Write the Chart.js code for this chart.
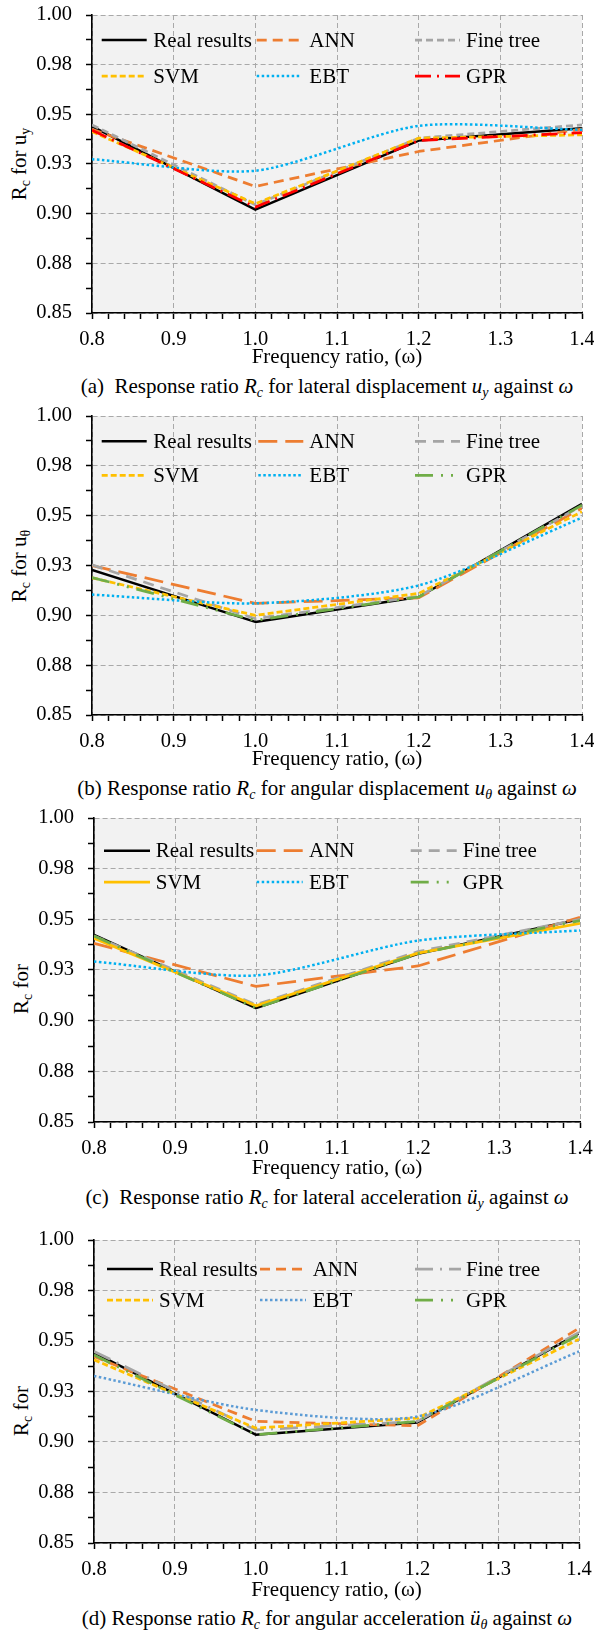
<!DOCTYPE html>
<html>
<head>
<meta charset="utf-8">
<script src="https://cdn.jsdelivr.net/npm/chart.js@4/dist/chart.umd.min.js"></script>
<style>
  html, body { margin: 0; padding: 0; background: #ffffff; }
  body { position: relative; width: 594px; height: 1631px; overflow: hidden;
         font-family: "Liberation Serif", "Times New Roman", serif; color: #000; }
  .ytitle { position: absolute; font-size: 21px; line-height: 21px; white-space: nowrap;
            transform: translate(-50%, -50%) rotate(-90deg); }
  .caption { position: absolute; font-size: 21px; line-height: 21px; white-space: nowrap;
             transform: translate(-50%, -50%); }
  sub { font-size: 14px; line-height: 0; vertical-align: -4px; }
</style>
</head>
<body>

<div class="ytitle" style="left:18.5px; top:164px;">R<sub>c</sub> for u<sub>y</sub></div>
<div class="ytitle" style="left:18.5px; top:566px;">R<sub>c</sub> for u<sub>θ</sub></div>
<div class="ytitle" style="left:21px; top:989px;">R<sub>c</sub> for</div>
<div class="ytitle" style="left:21px; top:1411px;">R<sub>c</sub> for</div>

<div class="caption" style="left:327px; top:386px;">(a)&nbsp; Response ratio <i>R<sub>c</sub></i> for lateral displacement <i>u<sub>y</sub></i> against <i>ω</i></div>
<div class="caption" style="left:327px; top:788px;">(b) Response ratio <i>R<sub>c</sub></i> for angular displacement <i>u<sub>θ</sub></i> against <i>ω</i></div>
<div class="caption" style="left:327px; top:1197px;">(c)&nbsp; Response ratio <i>R<sub>c</sub></i> for lateral acceleration <i>ü<sub>y</sub></i> against <i>ω</i></div>
<div class="caption" style="left:327px; top:1618px;">(d) Response ratio <i>R<sub>c</sub></i> for angular acceleration <i>ü<sub>θ</sub></i> against <i>ω</i></div>

<script>
// ---------------- DATA ----------------
const freq = [0.8, 1.0, 1.2, 1.4];
const xTickLabels = ['0.8', '0.9', '1.0', '1.1', '1.2', '1.3', '1.4'];
const yTickLabels = ['0.85', '0.88', '0.90', '0.93', '0.95', '0.98', '1.00'];
const seriesNames = ['Real results', 'ANN', 'Fine tree', 'SVM', 'EBT', 'GPR'];
const xAxisTitle = 'Frequency ratio, (ω)';

// (a) lateral displacement u_y
const realA = [0.9440, 0.9020, 0.9368, 0.9430];
const annA  = [0.9425, 0.9137, 0.9313, 0.9425];
const fineA = [0.9447, 0.9045, 0.9380, 0.9447];
const svmA  = [0.9413, 0.9050, 0.9380, 0.9397];
const ebtA  = [0.9274, 0.9216, 0.9442, 0.9422];
const gprA  = [0.9420, 0.9033, 0.9368, 0.9408];

// (b) angular displacement u_theta
const realB = [0.9228, 0.8967, 0.9092, 0.9559];
const annB  = [0.9250, 0.9060, 0.9088, 0.9538];
const fineB = [0.9253, 0.8983, 0.9095, 0.9550];
const svmB  = [0.9188, 0.9000, 0.9110, 0.9520];
const ebtB  = [0.9104, 0.9060, 0.9150, 0.9490];
const gprB  = [0.9190, 0.8975, 0.9092, 0.9553];

// (c) lateral acceleration
const realC = [0.9423, 0.9062, 0.9330, 0.9500];
const annC  = [0.9382, 0.9169, 0.9270, 0.9510];
const fineC = [0.9418, 0.9079, 0.9341, 0.9500];
const svmC  = [0.9407, 0.9073, 0.9333, 0.9480];
const ebtC  = [0.9292, 0.9223, 0.9395, 0.9445];
const gprC  = [0.9418, 0.9062, 0.9330, 0.9494];

// (d) angular acceleration
const realD = [0.9443, 0.9036, 0.9097, 0.9538];
const annD  = [0.9423, 0.9102, 0.9080, 0.9563];
const fineD = [0.9448, 0.9060, 0.9102, 0.9542];
const svmD  = [0.9407, 0.9069, 0.9118, 0.9509];
const ebtD  = [0.9327, 0.9159, 0.9126, 0.9448];
const gprD  = [0.9431, 0.9036, 0.9102, 0.9530];

// ---------------- STYLES / LAYOUT ----------------
const FONT = '"Liberation Serif", "Times New Roman", serif';
const GRID = '#a9a9a9';
const ST = {
  real:     { c: '#000000', w: 2.5,  d: [] },
  annS:     { c: '#ED7D31', w: 2.75, d: [10, 6] },
  annL:     { c: '#ED7D31', w: 2.75, d: [19, 8] },
  fineS:    { c: '#A5A5A5', w: 2.75, d: [7, 4] },
  fineL:    { c: '#A5A5A5', w: 2.75, d: [11, 7] },
  fineDD:   { c: '#A5A5A5', w: 2.75, d: [18, 7, 2, 7] },
  svmD:     { c: '#FFC000', w: 2.75, d: [6, 3] },
  svmS:     { c: '#FFC000', w: 2.75, d: [] },
  ebt:      { c: '#00B0F0', w: 2.5,  d: [2.5, 2.5], t: 0.25 },
  ebt2:     { c: '#5B9BD5', w: 2.5,  d: [2.5, 2.5], t: 0.25 },
  gprR:     { c: '#FF0000', w: 2.75, d: [16, 6, 2, 6] },
  gprG:     { c: '#70AD47', w: 2.75, d: [18, 8, 2, 8, 2, 8] }
};

const panels = [
  { values: [realA, annA, fineA, svmA, ebtA, gprA],
    styles: [ST.real, ST.annS, ST.fineS, ST.svmD, ST.ebt, ST.gprR],
    plotTop: 15, plotBottom: 313, left: 92, right: 582, xh: 55,
    leg: { lineX: [9.7, 164.7, 323], textX: [61.3, 217.3, 374], rows: [25, 61], len: 45 } },
  { values: [realB, annB, fineB, svmB, ebtB, gprB],
    styles: [ST.real, ST.annL, ST.fineL, ST.svmD, ST.ebt, ST.gprG],
    plotTop: 415.5, plotBottom: 714, left: 92, right: 582, xh: 55,
    leg: { lineX: [9.7, 166.3, 323], textX: [61.3, 217.3, 374], rows: [25.3, 59.3], len: 45 } },
  { values: [realC, annC, fineC, svmC, ebtC, gprC],
    styles: [ST.real, ST.annL, ST.fineL, ST.svmS, ST.ebt, ST.gprG],
    plotTop: 818, plotBottom: 1122, left: 94, right: 580, xh: 57,
    leg: { lineX: [10, 162.7, 316.7], textX: [61.7, 215, 368.7], rows: [32.7, 64], len: 46 } },
  { values: [realD, annD, fineD, svmD, ebtD, gprD],
    styles: [ST.real, ST.annS, ST.fineDD, ST.svmD, ST.ebt2, ST.gprG],
    plotTop: 1240, plotBottom: 1543, left: 94, right: 579, xh: 58,
    leg: { lineX: [13, 166, 321], textX: [65, 218.7, 372], rows: [29, 60], len: 46 } }
];

const bgPlugin = {
  id: 'plotBg',
  beforeDraw(chart) {
    const { ctx, chartArea: a } = chart;
    ctx.save();
    ctx.fillStyle = '#f2f2f2';
    ctx.fillRect(a.left, a.top, a.right - a.left, a.bottom - a.top);
    ctx.restore();
  }
};

function makeLegendPlugin(leg) {
  return {
    id: 'inLegend',
    afterDatasetsDraw(chart) {
      const { ctx, chartArea: a } = chart;
      chart.data.datasets.forEach((ds, i) => {
        const col = i % 3, row = Math.floor(i / 3);
        const y = a.top + leg.rows[row];
        const x0 = a.left + leg.lineX[col];
        ctx.save();
        ctx.strokeStyle = ds.borderColor;
        ctx.lineWidth = ds.borderWidth;
        ctx.lineCap = 'butt';
        ctx.setLineDash(ds.borderDash || []);
        ctx.beginPath();
        ctx.moveTo(x0, y);
        ctx.lineTo(x0 + leg.len, y);
        ctx.stroke();
        ctx.setLineDash([]);
        ctx.fillStyle = '#000';
        ctx.font = '21px ' + FONT;
        ctx.textBaseline = 'middle';
        ctx.textAlign = 'left';
        ctx.fillText(ds.label, a.left + leg.textX[col], y + 1);
        ctx.restore();
      });
    }
  };
}

panels.forEach(p => {
  const canvasTop = p.plotTop - 15;
  const h = Math.round(p.plotBottom - canvasTop + p.xh);
  const cv = document.createElement('canvas');
  cv.width = 594; cv.height = h;
  cv.style.cssText = 'position:absolute;left:0;top:' + canvasTop + 'px;width:594px;height:' + h + 'px;';
  document.body.appendChild(cv);

  const datasets = seriesNames.map((name, i) => {
    const s = p.styles[i];
    return {
      label: name,
      data: freq.map((f, k) => ({ x: f, y: p.values[i][k] })),
      borderColor: s.c,
      backgroundColor: s.c,
      borderWidth: s.w,
      borderDash: s.d,
      borderCapStyle: 'butt',
      borderJoinStyle: 'round',
      tension: s.t || 0,
      pointRadius: 0,
      fill: false,
      order: seriesNames.length - i
    };
  });

  new Chart(cv, {
    type: 'line',
    data: { datasets },
    plugins: [bgPlugin, makeLegendPlugin(p.leg)],
    options: {
      responsive: false,
      animation: false,
      devicePixelRatio: 1,
      layout: { padding: { top: p.plotTop - canvasTop, right: 594 - p.right, bottom: 0, left: 0 } },
      plugins: { legend: { display: false }, tooltip: { enabled: false }, title: { display: false } },
      scales: {
        x: {
          type: 'linear', min: 0.8, max: 1.4,
          ticks: {
            stepSize: 0.02, autoSkip: false, maxRotation: 0, minRotation: 0, maxTicksLimit: 1000,
            padding: 10, color: '#000',
            font: { family: FONT, size: 20.5, lineHeight: 1 },
            callback: (v, i) => (i % 5 === 0 ? xTickLabels[i / 5] : '')
          },
          grid: {
            color: ctx => (ctx.index % 5 === 0 ? GRID : 'rgba(0,0,0,0)'),
            lineWidth: 1, drawTicks: true, tickLength: 6, tickColor: '#000', tickWidth: 1.5
          },
          border: { display: true, color: '#000', width: 1.6, dash: [5, 3] },
          title: { display: true, text: xAxisTitle, color: '#000',
                   font: { family: FONT, size: 21, lineHeight: 1 }, padding: { top: 0, bottom: 0 } },
          afterFit: s => { s.height = p.xh; s.paddingLeft = 0; s.paddingRight = 0; }
        },
        y: {
          type: 'linear', min: 0.85, max: 1.0,
          ticks: {
            stepSize: 0.0125, autoSkip: false, maxTicksLimit: 1000,
            padding: 14, color: '#000',
            font: { family: FONT, size: 20.5, lineHeight: 1 },
            callback: (v, i) => (i % 2 === 0 ? yTickLabels[i / 2] : '')
          },
          grid: {
            color: ctx => (ctx.index % 2 === 0 ? GRID : 'rgba(0,0,0,0)'),
            lineWidth: 1, drawTicks: true, tickLength: 6, tickColor: '#000', tickWidth: 1.5
          },
          border: { display: true, color: '#000', width: 1.6, dash: [5, 3] },
          afterFit: s => { s.width = p.left; s.paddingTop = 0; s.paddingBottom = 0; }
        }
      }
    }
  });
});
</script>
</body>
</html>
